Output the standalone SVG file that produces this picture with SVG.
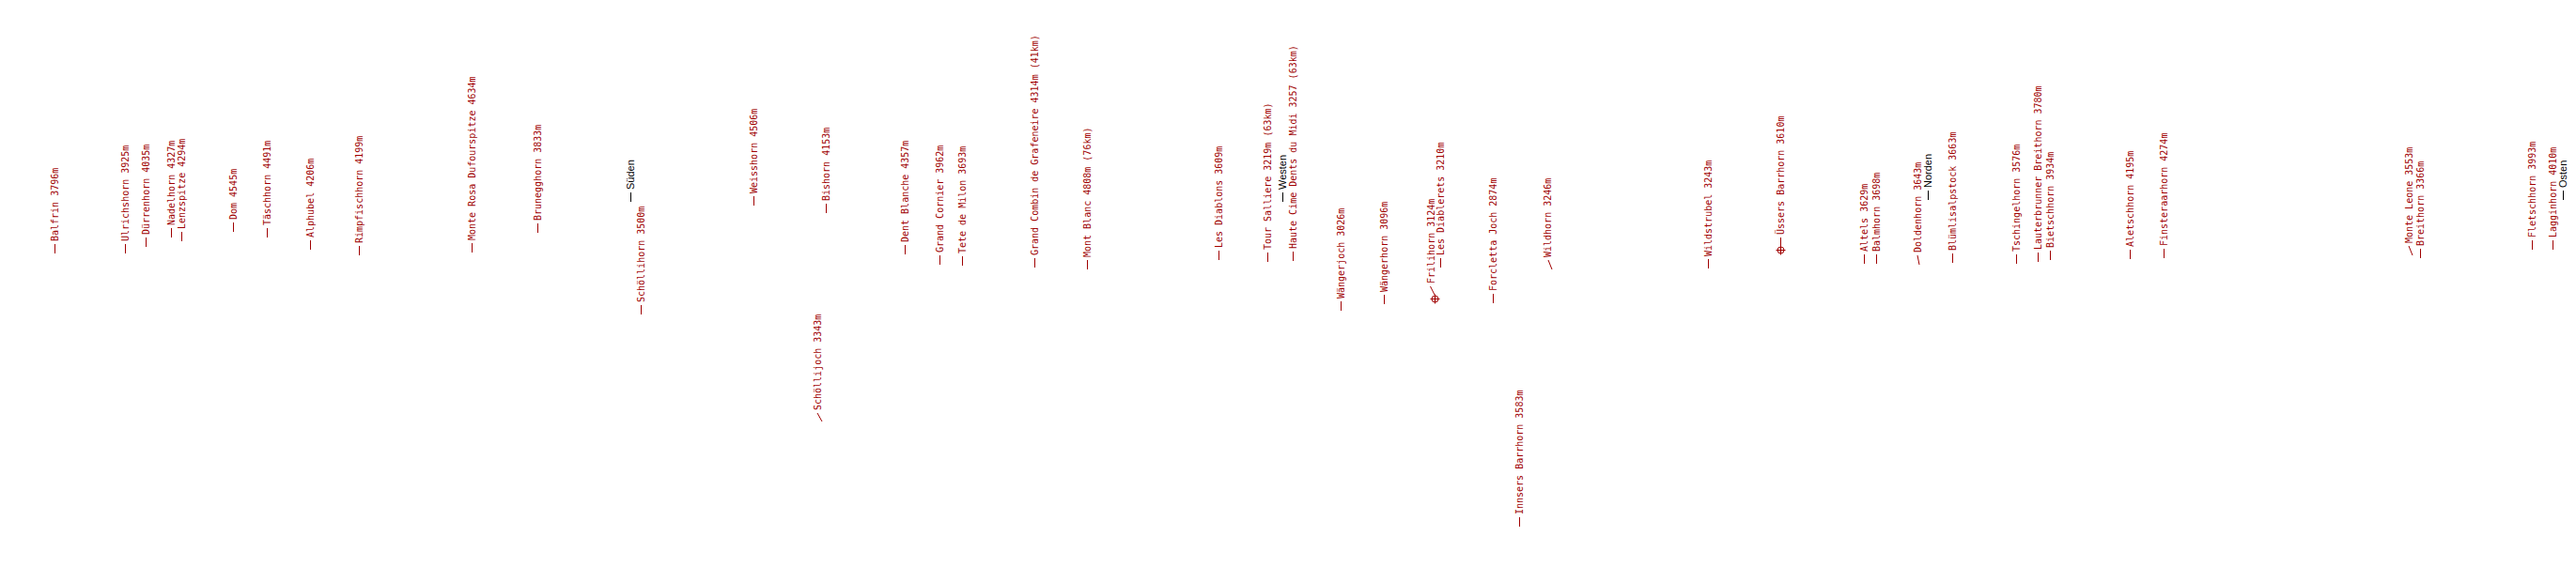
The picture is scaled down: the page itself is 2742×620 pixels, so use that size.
<svg xmlns="http://www.w3.org/2000/svg" width="2742" height="620" viewBox="0 0 2742 620">
<style>
.p{font-family:"DejaVu Sans Mono","Liberation Mono",monospace;font-size:10px;fill:#a00000}
.d{font-family:"Liberation Sans","DejaVu Sans",sans-serif;font-size:11px;fill:#000}
.l{stroke:#a00000;stroke-width:1;fill:none}
.k{stroke:#000;stroke-width:1;fill:none}
</style>
<defs>
<g id="tgt"><circle r="3.5" class="l"/><path d="M-5 0H5M0 -5V5" class="l"/></g>
</defs>
<rect width="2742" height="620" fill="#fff"/>
<g id="connectors">
<path class="l" d="M58.5 270V260M133.5 270V260M155.5 263V253M182.5 253V243M193.5 257V247M248.5 247V237M284.5 253V243M330.5 266V256M382.5 272V262M502.5 269V259M572.5 248V238M682.5 335V325M802.5 219V209M879.5 227V217M875 449L870 440M963.5 271V261M1000.5 282V272M1024.5 283V273M1101.5 285V275M1157.5 287V277M1297.5 277V267M1349.5 279V269M1376.5 278V268M1427.5 331V321M1473.5 324V314M1527 314L1522.5 305M1533.5 285V275M1589.5 323V313M1652 287L1648 277M1617.5 561V551M1818.5 286V276M1895.5 262V253M1984.5 281V271M1997.5 281V271M2043 282L2041 272M2078.5 280V270M2146.5 281V271M2169.5 279V269M2182.5 277V267M2267.5 276V266M2303.5 275V265M2568 272L2564 262M2576.5 275V265M2695.5 266V256M2717.5 266V256"/>
<path class="k" d="M671.5 215V205M1365.5 215V205M2052.5 213V203M2728.5 213V203"/>
</g>
<g id="balfrin"><text class="p" transform="translate(62,257) rotate(-90)">Balfrin 3796m</text></g>
<g id="ulrichshorn"><text class="p" transform="translate(137,257) rotate(-90)">Ulrichshorn 3925m</text></g>
<g id="duerrenhorn"><text class="p" transform="translate(159,250) rotate(-90)">Dürrenhorn 4035m</text></g>
<g id="nadelhorn"><text class="p" transform="translate(186,240) rotate(-90)">Nadelhorn 4327m</text></g>
<g id="lenzspitze"><text class="p" transform="translate(197,244) rotate(-90)">Lenzspitze 4294m</text></g>
<g id="dom"><text class="p" transform="translate(252,234) rotate(-90)">Dom 4545m</text></g>
<g id="taeschhorn"><text class="p" transform="translate(288,240) rotate(-90)">Täschhorn 4491m</text></g>
<g id="alphubel"><text class="p" transform="translate(334,253) rotate(-90)">Alphubel 4206m</text></g>
<g id="rimpfischhorn"><text class="p" transform="translate(386,259) rotate(-90)">Rimpfischhorn 4199m</text></g>
<g id="monterosa"><text class="p" transform="translate(506,256) rotate(-90)">Monte Rosa Dufourspitze 4634m</text></g>
<g id="brunegghorn"><text class="p" transform="translate(576,235) rotate(-90)">Brunegghorn 3833m</text></g>
<g id="sueden"><text class="d" transform="translate(675,202) rotate(-90)">Süden</text></g>
<g id="schoellihorn"><text class="p" transform="translate(686,322) rotate(-90)">Schöllihorn 3500m</text></g>
<g id="weisshorn"><text class="p" transform="translate(806,206) rotate(-90)">Weisshorn 4506m</text></g>
<g id="bishorn"><text class="p" transform="translate(883,214) rotate(-90)">Bishorn 4153m</text></g>
<g id="schoellijoch"><text class="p" transform="translate(874,437) rotate(-90)">Schöllijoch 3343m</text></g>
<g id="dentblanche"><text class="p" transform="translate(967,258) rotate(-90)">Dent Blanche 4357m</text></g>
<g id="grandcornier"><text class="p" transform="translate(1004,269) rotate(-90)">Grand Cornier 3962m</text></g>
<g id="tetedemilon"><text class="p" transform="translate(1028,270) rotate(-90)">Tete de Milon 3693m</text></g>
<g id="grandcombin"><text class="p" transform="translate(1105,272) rotate(-90)">Grand Combin de Grafeneire 4314m (41km)</text></g>
<g id="montblanc"><text class="p" transform="translate(1161,274) rotate(-90)">Mont Blanc 4808m (76km)</text></g>
<g id="lesdiablons"><text class="p" transform="translate(1301,264) rotate(-90)">Les Diablons 3609m</text></g>
<g id="toursalliere"><text class="p" transform="translate(1353,266) rotate(-90)">Tour Salliere 3219m (63km)</text></g>
<g id="westen"><text class="d" transform="translate(1369,202) rotate(-90)">Westen</text></g>
<g id="dentsdumidi"><text class="p" transform="translate(1380,265) rotate(-90)">Haute Cime Dents du Midi 3257 (63km)</text></g>
<g id="waengerjoch"><text class="p" transform="translate(1431,318) rotate(-90)">Wängerjoch 3026m</text></g>
<g id="waengerhorn"><text class="p" transform="translate(1477,311) rotate(-90)">Wängerhorn 3096m</text></g>
<g id="frilihorn"><use href="#tgt" x="1527.5" y="318.5"/><text class="p" transform="translate(1527,302) rotate(-90)">Frilihorn 3124m</text></g>
<g id="lesdiablerets"><text class="p" transform="translate(1537,272) rotate(-90)">Les Diablerets 3210m</text></g>
<g id="forclettajoch"><text class="p" transform="translate(1593,310) rotate(-90)">Forcletta Joch 2874m</text></g>
<g id="wildhorn"><text class="p" transform="translate(1651,274) rotate(-90)">Wildhorn 3246m</text></g>
<g id="innsersbarrhorn"><text class="p" transform="translate(1621,548) rotate(-90)">Innsers Barrhorn 3583m</text></g>
<g id="wildstrubel"><text class="p" transform="translate(1822,273) rotate(-90)">Wildstrubel 3243m</text></g>
<g id="uessersbarrhorn"><use href="#tgt" x="1895.5" y="266.5"/><text class="p" transform="translate(1899,250) rotate(-90)">Üssers Barrhorn 3610m</text></g>
<g id="altels"><text class="p" transform="translate(1988,268) rotate(-90)">Altels 3629m</text></g>
<g id="balmhorn"><text class="p" transform="translate(2001,268) rotate(-90)">Balmhorn 3698m</text></g>
<g id="doldenhorn"><text class="p" transform="translate(2045,269) rotate(-90)">Doldenhorn 3643m</text></g>
<g id="norden"><text class="d" transform="translate(2056,200) rotate(-90)">Norden</text></g>
<g id="bluemlisalpstock"><text class="p" transform="translate(2082,267) rotate(-90)">Blümlisalpstock 3663m</text></g>
<g id="tschingelhorn"><text class="p" transform="translate(2150,268) rotate(-90)">Tschingelhorn 3576m</text></g>
<g id="lauterbrunnerbreithorn"><text class="p" transform="translate(2173,266) rotate(-90)">Lauterbrunner Breithorn 3780m</text></g>
<g id="bietschhorn"><text class="p" transform="translate(2186,264) rotate(-90)">Bietschhorn 3934m</text></g>
<g id="aletschhorn"><text class="p" transform="translate(2271,263) rotate(-90)">Aletschhorn 4195m</text></g>
<g id="finsteraarhorn"><text class="p" transform="translate(2307,262) rotate(-90)">Finsteraarhorn 4274m</text></g>
<g id="monteleone"><text class="p" transform="translate(2568,259) rotate(-90)">Monte Leone 3553m</text></g>
<g id="breithorn"><text class="p" transform="translate(2580,262) rotate(-90)">Breithorn 3366m</text></g>
<g id="fletschhorn"><text class="p" transform="translate(2699,253) rotate(-90)">Fletschhorn 3993m</text></g>
<g id="lagginhorn"><text class="p" transform="translate(2721,253) rotate(-90)">Lagginhorn 4010m</text></g>
<g id="osten"><text class="d" transform="translate(2732,200) rotate(-90)">Osten</text></g>
</svg>
